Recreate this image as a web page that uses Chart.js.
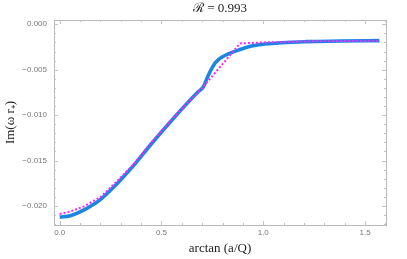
<!DOCTYPE html>
<html>
<head>
<meta charset="utf-8">
<script src="https://cdn.jsdelivr.net/npm/chart.js@4/dist/chart.umd.min.js"></script>
<style>
html,body{margin:0;padding:0;background:#fff;}
#wrap{width:407px;height:259px;}
</style>
</head>
<body>
<div id="wrap"><canvas id="c" width="407" height="259"></canvas></div>
<script>
const blueX = [0.0, 0.0525, 0.1176, 0.1995, 0.2814, 0.3627, 0.4446, 0.5672, 0.6814, 0.7059, 0.7200, 0.7350, 0.7500, 0.7650, 0.7800, 0.8000, 0.8284, 0.8775, 0.9431, 1.0083, 1.2127, 1.3760, 1.5708];
const blueY = [-0.02123, -0.02107, -0.02046, -0.01931, -0.01755, -0.01557, -0.01332, -0.01015, -0.00741, -0.00688, -0.00615, -0.00540, -0.00475, -0.00423, -0.00388, -0.00358, -0.00325, -0.00285, -0.00240, -0.00218, -0.00191, -0.00185, -0.00180];
const magX = [0.0, 0.05, 0.116, 0.2, 0.28, 0.363, 0.445, 0.567, 0.706, 0.886, 1.0, 1.2, 1.5708];
const magY = [-0.02088, -0.02063, -0.02008, -0.01903, -0.01733, -0.01541, -0.01315, -0.01008, -0.00686, -0.00211, -0.0020, -0.00189, -0.0018];
const xTicks = [0, 0.5, 1.0, 1.5];
const yTicks = [0, -0.005, -0.010, -0.015, -0.020];
const titleText = "\u211B = 0.993";
const xTitle = "arctan (a/Q)";
const yTitle = "Im(\u03C9 r\u208A)";

const pts = (xs, ys) => xs.map((x, i) => ({x: x, y: ys[i]}));

const frame = {
  id: 'frame',
  afterDraw(chart) {
    const {ctx, chartArea: a, scales} = chart;
    ctx.save();
    ctx.strokeStyle = '#b8b8b8';
    ctx.lineWidth = 1;
    ctx.strokeRect(Math.round(a.left) + 0.5, Math.round(a.top) + 0.5, Math.round(a.right - a.left), Math.round(a.bottom - a.top));
    ctx.strokeStyle = '#c4c4c4';
    ctx.beginPath();
    for (let i = 0; i <= 16; i++) {
      const v = i / 10;
      const px = Math.round(scales.x.getPixelForValue(v)) + 0.5;
      const len = (i % 5 === 0) ? 4 : 2;
      ctx.moveTo(px, a.bottom); ctx.lineTo(px, a.bottom - len);
      ctx.moveTo(px, a.top); ctx.lineTo(px, a.top + len);
    }
    for (let i = 0; i <= 22; i++) {
      const v = -i / 1000;
      const py = Math.round(scales.y.getPixelForValue(v)) + 0.5;
      if (py < a.top || py > a.bottom) continue;
      const len = (i % 5 === 0) ? 4 : 2;
      ctx.moveTo(a.left, py); ctx.lineTo(a.left + len, py);
      ctx.moveTo(a.right, py); ctx.lineTo(a.right - len, py);
    }
    ctx.stroke();
    // title centred over the plot area
    ctx.fillStyle = '#222';
    ctx.font = '13px "Liberation Serif", "DejaVu Serif", serif';
    ctx.textAlign = 'center';
    ctx.textBaseline = 'middle';
    ctx.fillText(titleText, (a.left + a.right) / 2, 9);
    ctx.restore();
  }
};

new Chart(document.getElementById('c'), {
  type: 'scatter',
  data: {
    datasets: [
      {
        data: pts(blueX, blueY),
        showLine: true,
        order: 2,
        borderColor: '#1a86e2',
        borderWidth: 3.6,
        pointRadius: 0,
        cubicInterpolationMode: 'monotone',
        borderCapStyle: 'butt'
      },
      {
        data: pts(magX, magY),
        showLine: true,
        order: 1,
        borderColor: '#ff22ff',
        borderWidth: 2,
        borderDash: [2, 2],
        pointRadius: 0,
        tension: 0
      }
    ]
  },
  options: {
    responsive: false,
    animation: false,
    devicePixelRatio: 1,
    layout: {padding: {left: 0, right: 21, top: 20, bottom: 0}},
    plugins: {
      legend: {display: false},
      tooltip: {enabled: false},
      title: {display: false}
    },
    scales: {
      x: {
        type: 'linear',
        min: -0.028,
        max: 1.603,
        grid: {display: false, drawTicks: false},
        border: {display: false},
        afterBuildTicks: s => { s.ticks = xTicks.map(v => ({value: v})); },
        afterFit: s => { s.height = 34; },
        ticks: {
          padding: 3,
          color: '#777',
          font: {family: 'Liberation Sans', size: 8},
          maxRotation: 0,
          callback: v => v.toFixed(1)
        },
        title: {
          display: true,
          text: xTitle,
          color: '#222',
          font: {family: 'Liberation Serif', size: 13},
          padding: {top: 0, bottom: 3}
        }
      },
      y: {
        type: 'linear',
        min: -0.0221,
        max: 0.00047,
        grid: {display: false, drawTicks: false},
        border: {display: false},
        afterBuildTicks: s => { s.ticks = yTicks.map(v => ({value: v})); },
        afterFit: s => { s.width = 54; },
        ticks: {
          padding: 7,
          color: '#777',
          font: {family: 'Liberation Sans', size: 8},
          callback: v => (v < 0 ? '\u2212' : '') + Math.abs(v).toFixed(3)
        },
        title: {
          display: true,
          text: yTitle,
          color: '#222',
          font: {family: 'Liberation Serif', size: 13},
          padding: {top: 3, bottom: 0}
        }
      }
    }
  },
  plugins: [frame]
});
</script>
</body>
</html>
